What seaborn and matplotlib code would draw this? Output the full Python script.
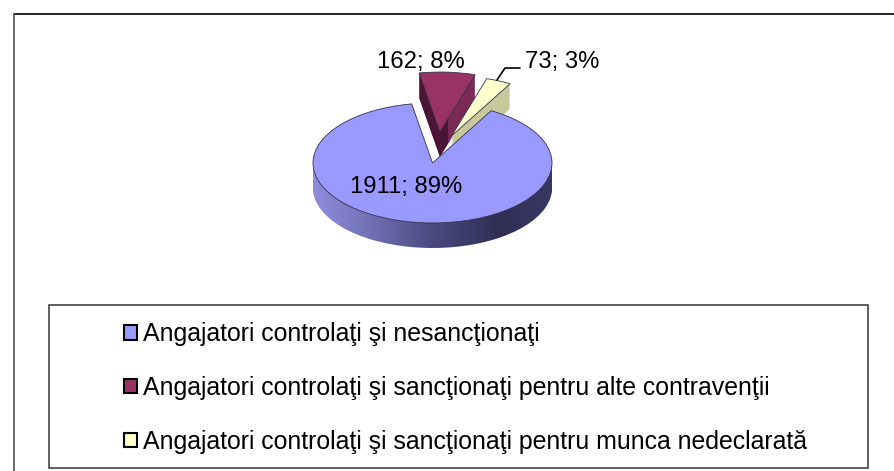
import numpy as np
import matplotlib
matplotlib.use("Agg")
import matplotlib.pyplot as plt
from matplotlib.colors import LinearSegmentedColormap
from matplotlib.patches import Patch, Rectangle
from matplotlib.lines import Line2D
import seaborn as sns

categories = ["Angajatori controlaţi şi nesancţionaţi",
              "Angajatori controlaţi şi sancţionaţi pentru alte contravenţii",
              "Angajatori controlaţi şi sancţionaţi pentru munca nedeclarată"]
values = [1911, 162, 73]
percent_labels = ["1911; 89%", "162; 8%", "73; 3%"]

W, H = 894, 471
sns.set_theme(style="white")
plt.rcParams["font.family"] = ["Liberation Sans", "DejaVu Sans"]
top_colors = sns.color_palette(["#9999ff", "#993366", "#ffffcc"])
rim_colors = [["#9494e6", "#7373b8", "#4a4a80", "#2f2f55", "#3a3a66"],
              ["#4a1535", "#4a1535", "#7a2a55", "#7a2a55"],
              ["#c8c89c", "#c8c89c"]]
rim_splits = [None, [0, 0.5, 0.5, 1], None]

fig = plt.figure(figsize=(W / 100, H / 100), dpi=100, facecolor="white")
ax = fig.add_axes([0, 0, 1, 1])

CX, CY, RX, RY, DEPTH = 432.5, 163, 119.5, 60, 25
explode = [0, 0.517, 0.49]
shift_x = [0, 0.03, -0.035]
START = 60.6
depth_units = DEPTH / RY
extents = [(-1.1, 1.1), (-0.32, 0.58), (0.1, 0.8)]


def one_wedge(k, dy, **wp):
    wedges, _ = ax.pie(values, startangle=START, counterclock=False, explode=explode,
                       center=(shift_x[k], -dy), radius=1, colors=top_colors, wedgeprops=wp)
    for i, w in enumerate(wedges):
        if i != k:
            w.set_visible(False)
    return wedges[k]


order = [1, 2, 0]
for pos, k in enumerate(order):
    cmap_nodes = rim_colors[k]
    if rim_splits[k]:
        cmap = LinearSegmentedColormap.from_list("r", list(zip(rim_splits[k], cmap_nodes)))
    else:
        cmap = LinearSegmentedColormap.from_list("r", cmap_nodes)
    x0, x1 = extents[k]
    for dy in np.linspace(depth_units, 0, DEPTH + 1)[:-1]:
        w = one_wedge(k, dy, linewidth=0, facecolor="none", edgecolor="none")
        w.set_zorder(1 + pos)
        im = ax.imshow(np.linspace(0, 1, 256)[None, :], cmap=cmap, aspect="auto",
                       extent=(x0, x1, -3, 3), zorder=1 + pos)
        im.set_clip_path(w)
    top = one_wedge(k, 0, linewidth=0.6, edgecolor="#33334d")
    top.set_zorder(1.5 + pos)

ax.set_aspect("auto")
ax.set_xlim(-CX / RX, (W - CX) / RX)
ax.set_ylim((CY - H) / RY, CY / RY)
ax.axis("off")

px = lambda x, y: (x / W, 1 - y / H)

# frames
fig.add_artist(Line2D(*zip(px(13.5, 13.5), px(W, 13.5)), transform=fig.transFigure,
                      color="black", linewidth=1.2))
fig.add_artist(Line2D(*zip(px(13.5, 13.5), px(13.5, H)), transform=fig.transFigure,
                      color="#666666", linewidth=1.4))
x0, y0, x1, y1 = 48.5, 305, 868, 467.5
fig.add_artist(Rectangle(px(x0, y1), (x1 - x0) / W, (y1 - y0) / H, transform=fig.transFigure,
                         fill=False, edgecolor="#333333", linewidth=1.1))

# data labels
for (x, y), t in zip([(350, 187), (377, 62), (525, 62)], percent_labels):
    fig.text(*px(x, y), t, fontsize=17.2, color="black", ha="left", va="center")
lx, ly = zip(*[px(497, 80), px(505, 68), px(520, 68)])
fig.add_artist(Line2D(lx, ly, transform=fig.transFigure, color="black", linewidth=1.2))

# legend
handles = [Patch(facecolor=c, edgecolor="black", linewidth=1.5) for c in top_colors]
fs = 17.9
leg = fig.legend(handles, categories, loc="upper left", bbox_to_anchor=px(124, 322),
                 bbox_transform=fig.transFigure, frameon=False, fontsize=fs, labelcolor="black",
                 borderpad=0, borderaxespad=0, handlelength=0.53, handleheight=0.53,
                 handletextpad=0.24, labelspacing=1.2)
fig.savefig("out.png", dpi=100)
